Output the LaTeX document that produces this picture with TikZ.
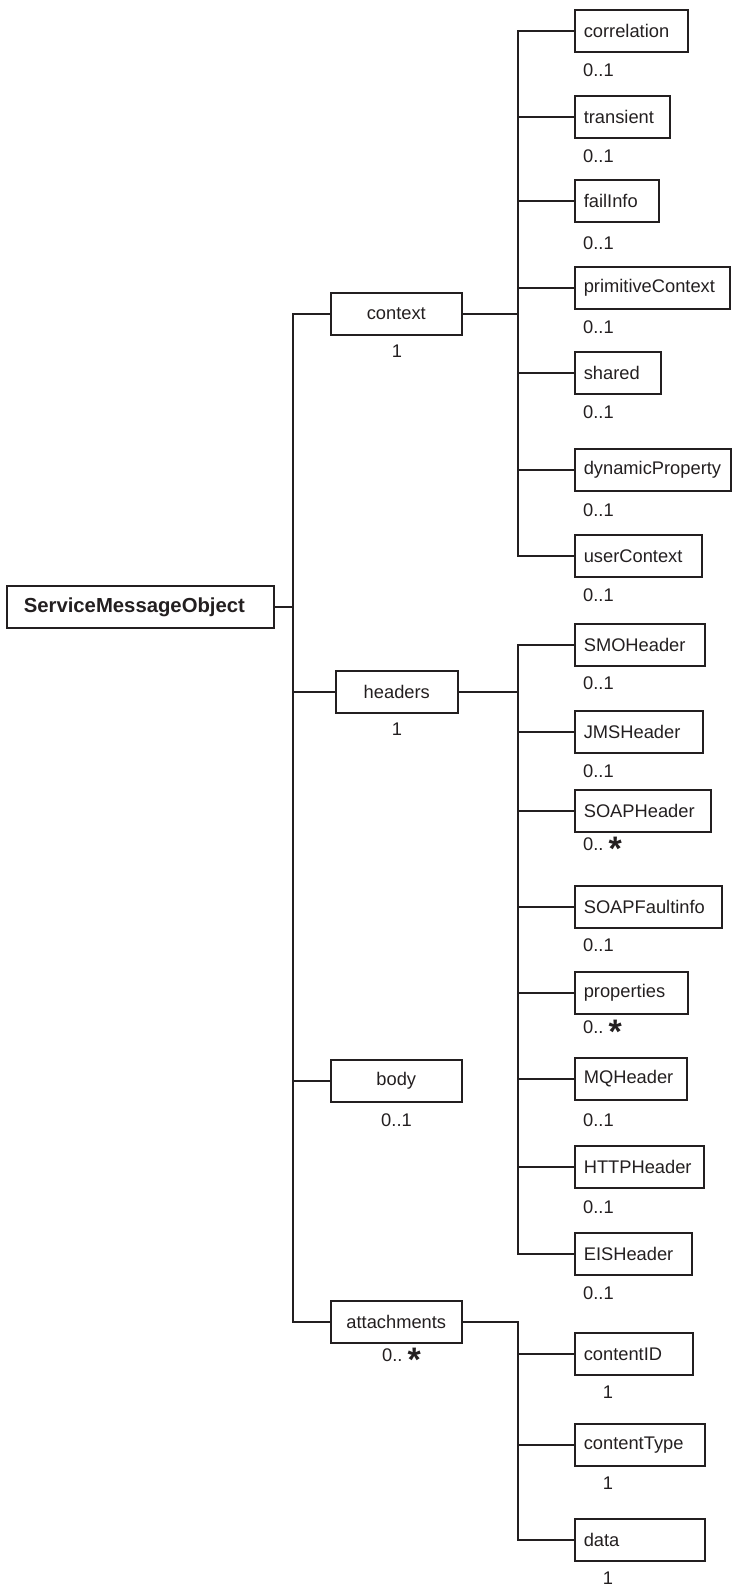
\documentclass[tikz,border=0pt]{standalone}
\usepackage{fontspec}
\setmainfont{Liberation Sans}
\definecolor{ink}{HTML}{231F20}
\newcommand{\many}{0..\hspace{5pt}\raisebox{-10.5pt}{\fontsize{34}{34}\selectfont\bfseries *}}

\begin{document}
\begin{tikzpicture}[x=1pt,y=-1pt,
  every node/.style={font=\fontsize{18.3}{22}\selectfont, text=ink},
  box/.style={draw=ink, line width=1.6pt, minimum height=42pt, inner ysep=0pt},
  leaf/.style={box, anchor=west, inner xsep=9pt, text width=#1, align=left},
  mid/.style={box, anchor=west, inner xsep=0pt, minimum width=#1},
  mult/.style={inner sep=0pt, anchor=west},
  link/.style={draw=ink, line width=1.6pt, line cap=rect}]
\useasboundingbox (0,0) rectangle (731,1585);
\node[leaf=233, inner xsep=17pt, font=\fontsize{20.3}{24}\selectfont\bfseries] (smo) at (6,607) {ServiceMessageObject};
\node[mid=131] (ctx) at (330,314) {context};
\node[mid=122] (hdr) at (335,692) {headers};
\node[mid=131] (body) at (330,1081) {body};
\node[mid=131] (att) at (330,1322) {attachments};
\node[mult, anchor=center] (ctxm) at (397,351) {1};
\node[mult, anchor=center] (hdrm) at (397,729) {1};
\node[mult, anchor=center] (bodym) at (396.5,1120) {0..1};
\node[mult, anchor=west] (attm) at (382,1360) {\many};
\node[leaf=95] (corr) at (574,31) {correlation};
\node[mult] (corrm) at (583,70) {0..1};
\node[leaf=77] (trans) at (574,117) {transient};
\node[mult] (transm) at (583,156) {0..1};
\node[leaf=66] (fail) at (574,201) {failInfo};
\node[mult] (failm) at (583,243) {0..1};
\node[leaf=137] (prim) at (574,288) {primitiveContext};
\node[mult] (primm) at (583,327) {0..1};
\node[leaf=68] (shared) at (574,373) {shared};
\node[mult] (sharedm) at (583,412) {0..1};
\node[leaf=138] (dyn) at (574,470) {dynamicProperty};
\node[mult] (dynm) at (583,510) {0..1};
\node[leaf=109] (user) at (574,556) {userContext};
\node[mult] (userm) at (583,595) {0..1};
\node[leaf=112] (smoh) at (574,645) {SMOHeader};
\node[mult] (smohm) at (583,683) {0..1};
\node[leaf=110] (jms) at (574,732) {JMSHeader};
\node[mult] (jmsm) at (583,771) {0..1};
\node[leaf=118] (soap) at (574,811) {SOAPHeader};
\node[mult] (soapm) at (583,849) {\many};
\node[leaf=129] (fault) at (574,907) {SOAPFaultinfo};
\node[mult] (faultm) at (583,945) {0..1};
\node[leaf=95] (prop) at (574,993) {properties};
\node[mult] (propm) at (583,1032) {\many};
\node[leaf=94] (mq) at (574,1079) {MQHeader};
\node[mult] (mqm) at (583,1120) {0..1};
\node[leaf=111] (http) at (574,1167) {HTTPHeader};
\node[mult] (httpm) at (583,1207) {0..1};
\node[leaf=99] (eis) at (574,1254) {EISHeader};
\node[mult] (eism) at (583,1293) {0..1};
\node[leaf=100] (cid) at (574,1354) {contentID};
\node[mult, anchor=center] (cidm) at (608,1392) {1};
\node[leaf=112] (ctype) at (574,1445) {contentType};
\node[mult, anchor=center] (ctypem) at (608,1483) {1};
\node[leaf=112] (data) at (574,1540) {data};
\node[mult, anchor=center] (datam) at (608,1578) {1};
% buses
\coordinate (outer) at (293,0);
\coordinate (inner) at (518,0);
\draw[link] (smo.east) -- (smo.east -| outer);
\draw[link] (ctx.west -| outer) -- (att.west -| outer);
\draw[link] (ctx.west) -- (ctx.west -| outer);
\draw[link] (hdr.west) -- (hdr.west -| outer);
\draw[link] (body.west) -- (body.west -| outer);
\draw[link] (att.west) -- (att.west -| outer);
% context
\draw[link] (ctx.east) -- (ctx.east -| inner);
\draw[link] (corr.west -| inner) -- (user.west -| inner);
\draw[link] (corr.west) -- (corr.west -| inner);
\draw[link] (trans.west) -- (trans.west -| inner);
\draw[link] (fail.west) -- (fail.west -| inner);
\draw[link] (prim.west) -- (prim.west -| inner);
\draw[link] (shared.west) -- (shared.west -| inner);
\draw[link] (dyn.west) -- (dyn.west -| inner);
\draw[link] (user.west) -- (user.west -| inner);
% headers
\draw[link] (hdr.east) -- (hdr.east -| inner);
\draw[link] (smoh.west -| inner) -- (eis.west -| inner);
\draw[link] (smoh.west) -- (smoh.west -| inner);
\draw[link] (jms.west) -- (jms.west -| inner);
\draw[link] (soap.west) -- (soap.west -| inner);
\draw[link] (fault.west) -- (fault.west -| inner);
\draw[link] (prop.west) -- (prop.west -| inner);
\draw[link] (mq.west) -- (mq.west -| inner);
\draw[link] (http.west) -- (http.west -| inner);
\draw[link] (eis.west) -- (eis.west -| inner);
% attachments
\draw[link] (att.east) -- (att.east -| inner) -- (data.west -| inner);
\draw[link] (cid.west) -- (cid.west -| inner);
\draw[link] (ctype.west) -- (ctype.west -| inner);
\draw[link] (data.west) -- (data.west -| inner);
\end{tikzpicture}
\end{document}
